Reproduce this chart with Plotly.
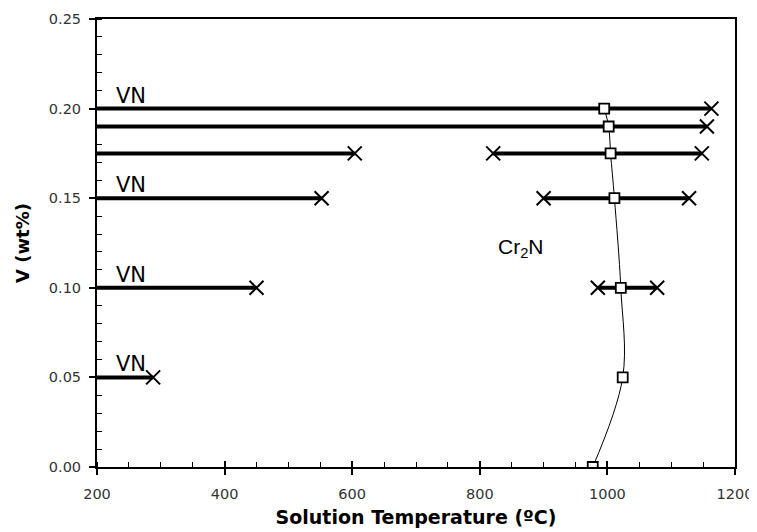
import plotly.graph_objects as go

# Horizontal VN / Cr2N stability segments
vn_levels = [0.20, 0.19, 0.175, 0.15, 0.10, 0.05]
vn_left_end = [1163, 1156, 604, 552, 450, 288]   # left segments start at 200
seg_start = 200
cr_right_start = [None, None, 821, 900, 985, None]
cr_right_end = [None, None, 1148, 1128, 1078, None]

# Cr2N solvus (squares)
sq_temp = [977, 1024, 1021, 1011, 1005, 1002, 995]
sq_v = [0.00, 0.05, 0.10, 0.15, 0.175, 0.19, 0.20]

# VN labels
vn_label_x = [226, 226, 226, 226]
vn_label_y = [0.20, 0.15, 0.10, 0.05]

x_ticks = [200, 400, 600, 800, 1000, 1200]
y_ticks = [0.00, 0.05, 0.10, 0.15, 0.20, 0.25]
y_tick_text = ["0.00", "0.05", "0.10", "0.15", "0.20", "0.25"]

fig = go.Figure()

lw = 4
xmark = dict(symbol="x-thin-open", size=14, line=dict(width=2, color="black"), color="black")

for y, xe in zip(vn_levels, vn_left_end):
    fig.add_trace(go.Scatter(x=[seg_start, xe], y=[y, y], mode="lines",
                             line=dict(color="black", width=lw), showlegend=False, hoverinfo="skip"))
    fig.add_trace(go.Scatter(x=[xe], y=[y], mode="markers", marker=xmark,
                             showlegend=False, hoverinfo="skip"))

for y, xs, xe in zip(vn_levels, cr_right_start, cr_right_end):
    if xs is None:
        continue
    fig.add_trace(go.Scatter(x=[xs, xe], y=[y, y], mode="lines+markers",
                             line=dict(color="black", width=lw), marker=xmark,
                             showlegend=False, hoverinfo="skip"))

fig.add_trace(go.Scatter(x=sq_temp, y=sq_v, mode="lines",
                         line=dict(color="black", width=1, shape="spline", smoothing=1.0),
                         showlegend=False, hoverinfo="skip"))
fig.add_trace(go.Scatter(x=sq_temp, y=sq_v, mode="markers",
                         marker=dict(symbol="square", size=10, color="white",
                                     line=dict(width=1.8, color="black")),
                         showlegend=False, hoverinfo="skip"))

for xl, yl in zip(vn_label_x, vn_label_y):
    fig.add_annotation(x=xl, y=yl, text="VN", showarrow=False, yanchor="bottom", xanchor="left",
                       yshift=-1, font=dict(family="DejaVu Sans", size=21, color="black"))

fig.add_annotation(x=864, y=0.122, text="Cr<sub>2</sub>N", showarrow=False,
                   font=dict(family="Liberation Sans, Arial", size=21, color="black"))

fig.update_layout(
    width=749, height=524,
    margin=dict(l=89, r=22, t=11, b=65),
    plot_bgcolor="white", paper_bgcolor="white",
    font=dict(family="DejaVu Sans", color="#333"),
    xaxis=dict(range=[200, 1200], tickvals=x_ticks, ticks="outside", ticklen=6, automargin=False,
               tickwidth=1.5, tickcolor="black", ticklabelstandoff=7,
               showline=True, linecolor="black", linewidth=2, mirror=True,
               showgrid=False, zeroline=False,
               tickfont=dict(family="DejaVu Sans", size=14.5, color="#333"),
               minor=dict(dtick=50, ticks="inside", ticklen=5, tickwidth=1, tickcolor="black", showgrid=False),
               title=dict(text="<b>Solution Temperature (ºC)</b>",
                          font=dict(family="DejaVu Sans", size=19, color="black"), standoff=9)),
    xaxis2=dict(range=[200, 1200], overlaying="x", matches="x", tickvals=x_ticks, ticks="inside",
                ticklen=6, tickwidth=1.5, tickcolor="black", showticklabels=False, automargin=False,
                showgrid=False, zeroline=False, side="bottom", showline=False),
    yaxis=dict(range=[0, 0.25], tickvals=y_ticks, ticktext=y_tick_text, ticks="outside", ticklen=6,
               tickwidth=1.5, tickcolor="black", ticklabelstandoff=5, automargin=False,
               showline=True, linecolor="black", linewidth=2, mirror=True,
               showgrid=False, zeroline=False,
               tickfont=dict(family="DejaVu Sans", size=14.5, color="#333"),
               minor=dict(dtick=0.01, ticks="inside", ticklen=5, tickwidth=1, tickcolor="black", showgrid=False),
               title=dict(text="<b>V (wt%)</b>",
                          font=dict(family="DejaVu Sans", size=18, color="black"), standoff=15)),
)
fig.add_trace(go.Scatter(x=[200], y=[0], xaxis="x2", mode="markers", marker=dict(opacity=0),
                         showlegend=False, hoverinfo="skip"))

fig.write_html("out.html")
